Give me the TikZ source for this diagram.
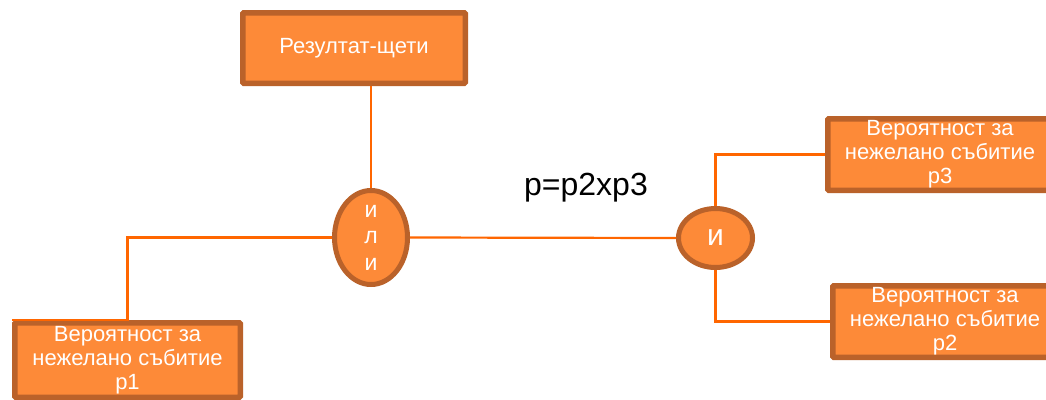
\documentclass[tikz,border=0pt]{standalone}
\usepackage{fontspec}
\setmainfont{Liberation Sans}
\usetikzlibrary{shapes.geometric}
\definecolor{boxfill}{RGB}{253,138,56}
\definecolor{boxedge}{RGB}{186,98,42}
\definecolor{wirecol}{RGB}{255,102,0}
\begin{document}
\begin{tikzpicture}[x=1pt,y=-1pt,
 box/.style={draw=boxedge,fill=boxfill,line width=5.5pt,rectangle,inner sep=0pt,text=white,align=center,font=\fontsize{22}{24}\selectfont,rounded corners=1pt},
 gate/.style={draw=boxedge,fill=boxfill,line width=5pt,ellipse,inner sep=0pt,text=white,align=center},
 wire/.style={draw=wirecol,line width=2.2pt}]
\useasboundingbox (0,0) rectangle (1046,399);
\node[box,minimum width=222.5pt,minimum height=70.5pt,font=\fontsize{22}{25}\selectfont] (res) at (354,48) {Резултат-щети};
\node[gate,minimum width=73pt,minimum height=94pt,font=\fontsize{23}{26.5}\selectfont] (ili) at (371,237.5) {и\\л\\и};
\node[gate,minimum width=74pt,minimum height=59pt,font=\fontsize{30}{32}\selectfont] (and) at (715.5,238) {и};
\node[box,minimum width=224.5pt,minimum height=71.5pt] (p3) at (940,154.5) {Вероятност за\\нежелано събитие\\p3};
\node[box,minimum width=224.5pt,minimum height=71.5pt] (p2) at (945,321.5) {Вероятност за\\нежелано събитие\\p2};
\node[box,minimum width=225.5pt,minimum height=74.5pt] (p1) at (127.5,360) {Вероятност за\\нежелано събитие\\p1};
\node[font=\fontsize{32}{36}\selectfont] (eq) at (586,188) {p=p2xp3};
\draw[wire] (res.south -| ili.north) -- (ili.north);
\draw[wire] (ili.west) -| (p1.north) -- (p1.north west);
\draw[wire] (ili.east) -- (and.west);
\draw[wire] (and.north) |- (p3.west);
\draw[wire] (and.south) |- (p2.west);
\end{tikzpicture}
\end{document}
